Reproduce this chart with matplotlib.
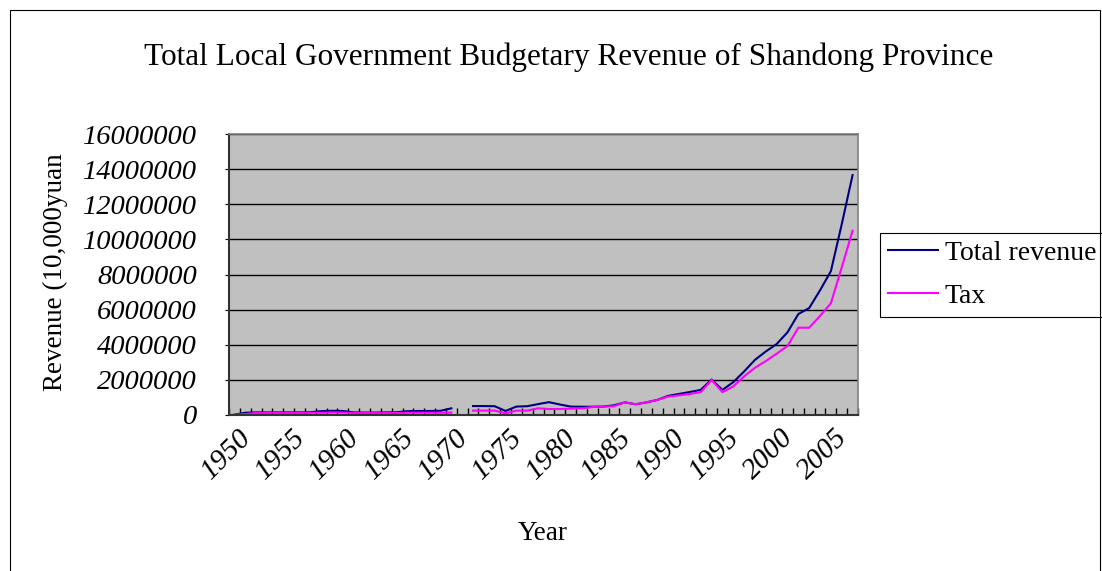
import numpy as np
import matplotlib.pyplot as plt
from matplotlib.patches import Rectangle

# --- Data: local budgetary revenue, 10,000 yuan (1970 not reported) ---
years = list(range(1949, 2007))
total_revenue = [
    20000, 130000, 150000, 150000, 150000, 150000, 150000, 160000, 220000, 240000,
    230000, 150000, 140000, 140000, 150000, 160000, 220000, 230000, 230000, 240000,
    380000, None, 510000, 510000, 500000, 230000, 480000, 500000, 620000, 730000,
    600000, 480000, 470000, 470000, 480000, 550000, 720000, 610000, 720000, 860000,
    1090000, 1200000, 1310000, 1430000, 2020000, 1430000, 1870000, 2480000, 3140000, 3620000,
    4040000, 4710000, 5750000, 6090000, 7100000, 8190000, 10860000, 13660000,
]
tax = [
    10000, 50000, 120000, 130000, 130000, 130000, 130000, 130000, 130000, 140000,
    140000, 120000, 120000, 120000, 120000, 120000, 130000, 130000, 130000, 130000,
    140000, None, 250000, 250000, 250000, 100000, 250000, 250000, 380000, 340000,
    340000, 360000, 380000, 450000, 480000, 500000, 720000, 610000, 720000, 860000,
    1050000, 1120000, 1200000, 1300000, 2000000, 1300000, 1630000, 2200000, 2690000, 3070000,
    3490000, 3930000, 4970000, 4970000, 5640000, 6360000, 8400000, 10490000,
]
label_years = list(range(1950, 2006, 5))
y_ticks = list(range(0, 16000001, 2000000))

total_revenue = np.array(total_revenue, dtype=float)
tax = np.array(tax, dtype=float)
x = np.arange(len(years))

plt.rcParams['font.family'] = ['Liberation Serif', 'DejaVu Serif']

W, H = 1102, 571
fig = plt.figure(figsize=(W / 100, H / 100), dpi=100)
ax = fig.add_axes([229 / W, 1 - 415 / H, (858 - 229) / W, (415 - 134) / H])

# chart area border
fig.patches.append(Rectangle((10 / W, -0.05), (1100 - 10) / W, 1.05 - 10 / H,
                             transform=fig.transFigure, fill=False,
                             edgecolor='black', linewidth=0.8))

ax.set_facecolor('#C0C0C0')
ax.plot(x, total_revenue, color='#000080', linewidth=1.5, label='Total revenue')
ax.plot(x, tax, color='#FF00FF', linewidth=1.5, label='Tax')

ax.set_xlim(-0.5, len(years) - 0.5)
ax.set_ylim(0, 16000000)
ax.set_yticks(y_ticks)
ax.set_yticklabels([str(v) for v in y_ticks], fontsize=20.5, style='italic')
ax.yaxis.grid(True, color='black', linewidth=1.0)
ax.set_axisbelow(True)

# category boundaries get the tick marks, labels sit on the categories
ax.set_xticks(np.arange(-0.5, len(years), 1.0), minor=True)
ax.set_xticks([years.index(y) for y in label_years])
ax.set_xticklabels([str(y) for y in label_years], fontsize=21, style='italic',
                   rotation=45, ha='right', va='center_baseline', rotation_mode='anchor')
ax.tick_params(axis='x', which='minor', direction='in', length=5, width=1, color='black')
ax.tick_params(axis='x', which='major', length=0, pad=12)
ax.tick_params(axis='y', direction='out', length=3, pad=20, color='black')

for side in ['top', 'right']:
    ax.spines[side].set_color('#808080')
    ax.spines[side].set_linewidth(1.2)
for side in ['left', 'bottom']:
    ax.spines[side].set_color('#333333')
    ax.spines[side].set_linewidth(1.5)

fig.text(569 / W, 1 - 57 / H, 'Total Local Government Budgetary Revenue of Shandong Province',
         fontsize=22.5, ha='center', va='center')
fig.text(543 / W, 1 - 533 / H, 'Year', fontsize=19.5, ha='center', va='center')
fig.text(55 / W, 1 - 272 / H, 'Revenue (10,000yuan', fontsize=19.5, ha='center', va='center',
         rotation=90)

leg = ax.legend(loc='upper left', bbox_to_anchor=(880 / W, 1 - 233 / H),
                bbox_transform=fig.transFigure, fontsize=20, frameon=True,
                fancybox=False, edgecolor='black', framealpha=1,
                handlelength=1.8, handletextpad=0.25, borderpad=0.28,
                labelspacing=0.63, borderaxespad=0)
leg.get_frame().set_linewidth(0.8)

plt.savefig('out.png', dpi=100)
